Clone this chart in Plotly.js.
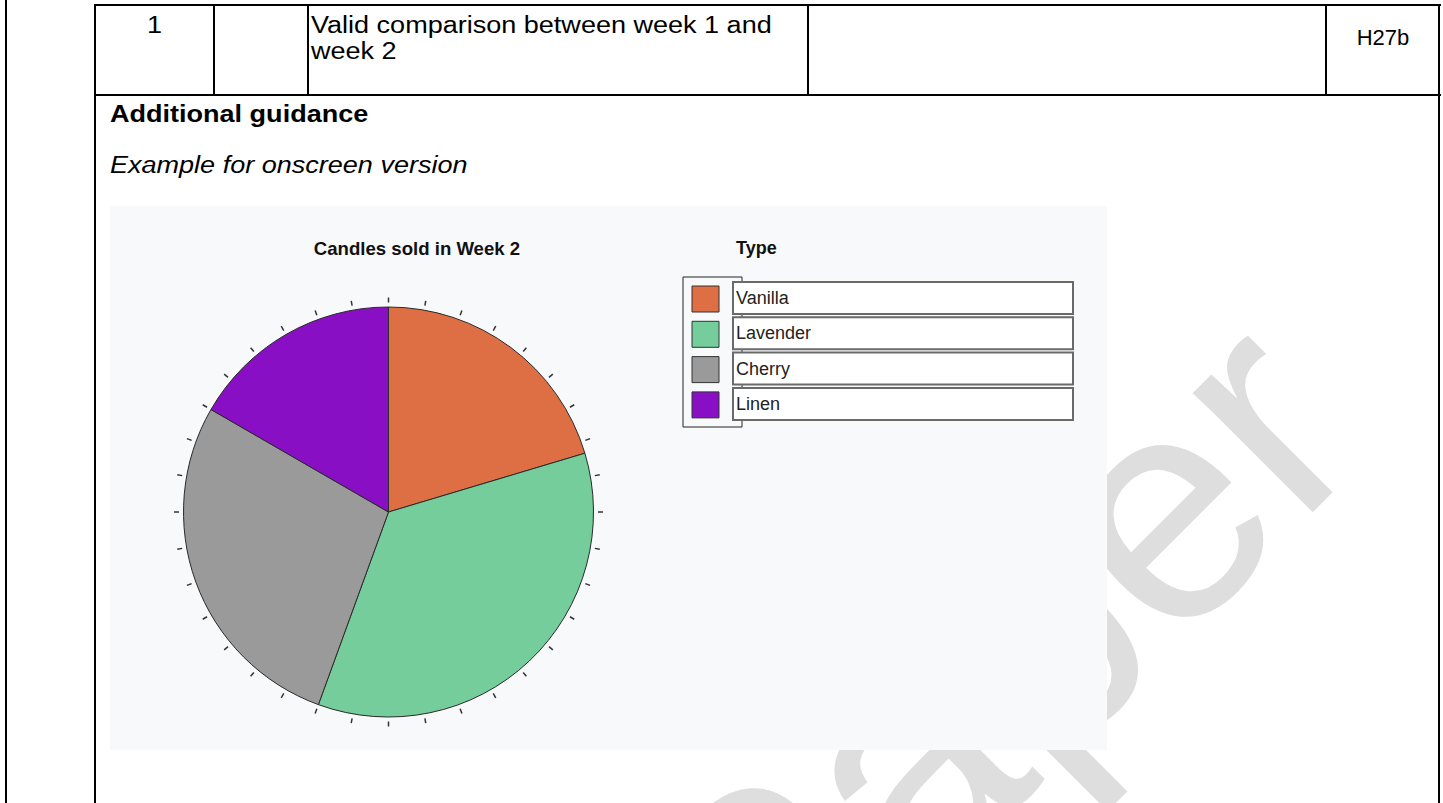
<!DOCTYPE html>
<html>
<head>
<meta charset="utf-8">
<script src="https://cdn.plot.ly/plotly-3.0.1.min.js"></script>
<style>
  html, body { margin:0; padding:0; width:1443px; height:803px; overflow:hidden; background:#ffffff; }
  body { position:relative; font-family:"Liberation Sans", Arial, sans-serif; color:#000; }
  .wm { position:absolute; left:992px; top:676px; transform:translate(-50%,-50%) rotate(-45deg);
        font-size:320px; line-height:1; color:#dedede; white-space:nowrap; z-index:0; }
  .ln { position:absolute; background:#000; z-index:1; }
  .tx { position:absolute; z-index:1; font-size:23.5px; line-height:26px; white-space:nowrap;
        transform-origin:0 0; transform:scaleX(1.15); }
  .tc { transform-origin:50% 0; }
  #chart { position:absolute; left:110px; top:206px; width:997px; height:544px; z-index:2; }
</style>
</head>
<body>
<div class="wm">Paper</div>

<!-- table rules -->
<div class="ln" style="left:5px; top:0; width:2px; height:803px;"></div>
<div class="ln" style="left:94px; top:4px; width:2px; height:799px;"></div>
<div class="ln" style="left:94px; top:4px; width:1347px; height:2px;"></div>
<div class="ln" style="left:94px; top:94px; width:1347px; height:2px;"></div>
<div class="ln" style="left:213px; top:4px; width:2px; height:91px;"></div>
<div class="ln" style="left:307px; top:4px; width:2px; height:91px;"></div>
<div class="ln" style="left:807px; top:4px; width:2px; height:91px;"></div>
<div class="ln" style="left:1325px; top:4px; width:2px; height:91px;"></div>
<div class="ln" style="left:1438px; top:4px; width:2px; height:799px;"></div>

<!-- table text -->
<div class="tx tc" style="left:95px; width:119px; top:12px; text-align:center;">1</div>
<div class="tx" style="left:311px; top:12px;">Valid comparison between week 1 and<br>week 2</div>
<div class="tx tc" style="left:1327px; width:112px; top:25px; text-align:center; font-size:22px; transform:none;">H27b</div>
<div class="tx" style="left:110px; top:101px; font-weight:bold;">Additional guidance</div>
<div class="tx" style="left:110px; top:152px; font-style:italic;">Example for onscreen version</div>

<div id="chart"></div>

<script>
// ---- data ----
const categories = ['Vanilla', 'Lavender', 'Cherry', 'Linen'];
const candlesSold = [11, 19, 15, 9];
const sliceColors = ['#de6e43', '#74cd9b', '#9a9a9a', '#880fc4'];
const chartTitle = 'Candles sold in Week 2';
const legendTitle = 'Type';
const tickAngles = [0, 360];   // angular axis span (degrees)
const tickStep = 10;

// ---- layout geometry (pixels inside the chart box) ----
const W = 997, H = 544;
const cx = 278.5, cy = 306, R = 205;     // pie centre / radius
const tickGap = 4;
const px = x => x / W;
const py = y => 1 - y / H;

const FONT = '"Liberation Sans", Arial, sans-serif';

const pieTrace = {
  type: 'pie',
  labels: categories,
  values: candlesSold,
  sort: false,
  direction: 'clockwise',
  rotation: 0,
  textinfo: 'none',
  hoverinfo: 'label+value+percent',
  marker: { colors: sliceColors, line: { color: '#2a2a2a', width: 1 } },
  domain: { x: [px(cx - R), px(cx + R)], y: [py(cy + R), py(cy - R)] },
  showlegend: false
};

// invisible polar trace that carries the tick ring
const ringTrace = {
  type: 'scatterpolar', subplot: 'polar',
  r: [0], theta: [tickAngles[0]], mode: 'markers',
  marker: { size: 1, opacity: 0 }, hoverinfo: 'skip', showlegend: false
};

// legend built from categories/colours
const shapes = [];
const annotations = [];
const rowStep = 35.3;
shapes.push({ type: 'rect', xref: 'paper', yref: 'paper',
  x0: px(573), x1: px(632), y0: py(71), y1: py(221),
  line: { color: '#222', width: 1 }, fillcolor: 'rgba(0,0,0,0)', layer: 'above' });
categories.forEach((c, i) => {
  const top = 76 + rowStep * i;
  shapes.push({ type: 'rect', xref: 'paper', yref: 'paper',
    x0: px(623), x1: px(963), y0: py(top), y1: py(top + 32),
    line: { color: '#6a6a6a', width: 2 }, fillcolor: '#ffffff', layer: 'above' });
  shapes.push({ type: 'rect', xref: 'paper', yref: 'paper',
    x0: px(582), x1: px(609), y0: py(top + 4), y1: py(top + 30),
    line: { color: '#333', width: 1 }, fillcolor: sliceColors[i], layer: 'above' });
  annotations.push({ xref: 'paper', yref: 'paper', x: px(623.5), y: py(top + 16),
    xanchor: 'left', yanchor: 'middle', showarrow: false, text: c,
    font: { family: FONT, size: 18, color: '#222' } });
});
annotations.push({ xref: 'paper', yref: 'paper', x: px(624), y: py(42),
  xanchor: 'left', yanchor: 'middle', showarrow: false, text: legendTitle,
  font: { family: FONT, size: 18, color: '#111', weight: 'bold' } });

const layout = {
  width: W, height: H, autosize: false,
  margin: { l: 0, r: 0, t: 0, b: 0, pad: 0 },
  paper_bgcolor: '#f8f9fb',
  plot_bgcolor: '#f8f9fb',
  font: { family: FONT, size: 18, color: '#111' },
  title: { text: chartTitle, x: px(307), xanchor: 'center', y: py(42), yanchor: 'middle',
           font: { family: FONT, size: 18.6, color: '#111', weight: 'bold' } },
  polar: {
    domain: { x: [px(cx - R - tickGap), px(cx + R + tickGap)],
              y: [py(cy + R + tickGap), py(cy - R - tickGap)] },
    bgcolor: 'rgba(0,0,0,0)',
    radialaxis: { visible: false, range: [0, 1] },
    angularaxis: {
      thetaunit: 'degrees', rotation: 90, direction: 'clockwise',
      tickmode: 'linear', tick0: tickAngles[0], dtick: tickStep,
      ticks: 'outside', ticklen: 5, tickwidth: 1.5, tickcolor: '#333',
      showticklabels: false, showgrid: false, showline: false
    }
  },
  shapes: shapes,
  annotations: annotations,
  showlegend: false
};

Plotly.newPlot('chart', [pieTrace, ringTrace], layout, { staticPlot: true, displayModeBar: false });
</script>
</body>
</html>
